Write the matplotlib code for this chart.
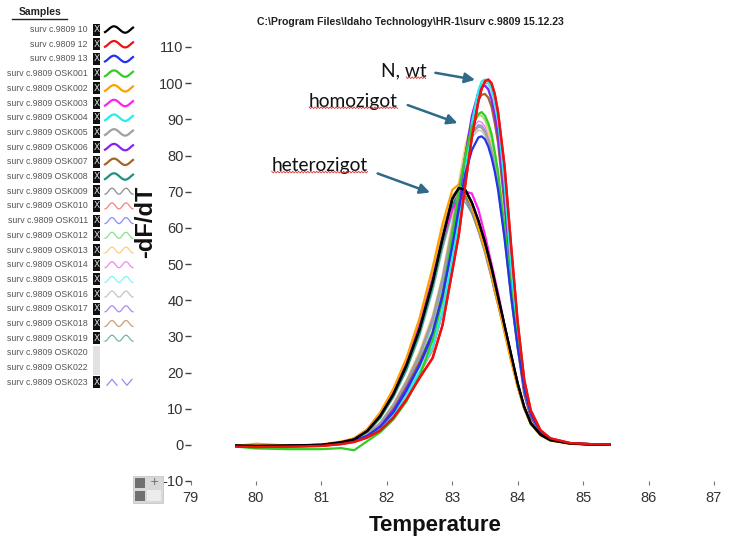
import numpy as np
import matplotlib
matplotlib.use('Agg')
import matplotlib.pyplot as plt
from matplotlib.patches import Rectangle
from matplotlib.lines import Line2D

# temperature grid (deg C) shared by all traces
temps = [79.7, 80.0, 80.5, 81.0, 81.3, 81.5, 81.7, 81.9, 82.1, 82.3, 82.5, 82.7, 82.85, 83.0, 83.1,
         83.2, 83.3, 83.4, 83.45, 83.5, 83.55, 83.6, 83.65, 83.7, 83.8, 83.9, 84.0, 84.1, 84.2, 84.35,
         84.5, 84.8, 85.1, 85.4]

# -dF/dT
s10 = [-0.2, -0.3, -0.2, 0.0, 0.7, 1.5, 3.8, 8, 14, 22, 32, 45, 57, 68, 71, 70.5, 67, 62, 59, 56, 52.5, 49, 45, 41, 33, 25, 17, 10.5, 6, 2.8, 1.3, 0.4, 0.1, 0.0]
s12 = [-0.5, -0.6, -0.5, -0.3, 0.2, 0.8, 2.0, 4.0, 7.5, 12.5, 18.5, 24, 33, 48, 58, 72, 85, 95, 98.5, 100.5, 101, 100, 97, 92, 77, 55, 34, 18, 9.5, 4, 1.8, 0.5, 0.2, 0.1]
s13 = [-0.3, -0.4, -0.3, -0.1, 0.4, 1.2, 2.5, 5, 9, 15, 22, 31, 41, 55, 65, 75, 81.5, 85, 85.3, 84.5, 82.5, 79.5, 75.5, 70.5, 57, 41, 27, 15.5, 8.5, 3.5, 1.5, 0.4, 0.2, 0.1]
osk001 = [-0.5, -1.0, -1.2, -1.2, -0.9, -1.5, 1.0, 3.5, 7, 12, 19, 29, 40, 58, 70, 80, 88, 91.5, 92, 91, 89, 86, 81, 75.5, 60, 43, 28, 16, 8.5, 3.5, 1.5, 0.4, 0.2, 0.1]
osk002 = [-0.3, 0.3, -0.2, 0.1, 0.9, 1.8, 4.3, 9, 15.5, 24, 35, 49, 61, 70.5, 72, 70, 66, 60, 57, 54, 50.5, 47, 43, 39, 31, 23, 16, 10, 5.7, 2.6, 1.2, 0.3, 0.1, 0.0]
osk003 = [-0.3, -0.3, -0.2, 0.0, 0.8, 1.7, 4.2, 8.8, 15, 23, 33, 46, 57, 65, 68, 70, 69.5, 65, 61.5, 58, 54, 50, 46, 42, 33, 24.5, 17, 10.5, 6, 2.8, 1.3, 0.4, 0.1, 0.0]
osk004 = [-0.3, -0.4, -0.4, -0.2, 0.3, 1.0, 2.3, 4.5, 8.5, 14, 20, 27, 37, 51, 62, 76, 89, 98, 100.5, 101, 100.5, 98.5, 95, 90, 72, 49, 30, 16, 8.5, 3.5, 1.5, 0.4, 0.2, 0.1]
osk005 = [-0.3, -0.4, -0.3, -0.1, 0.5, 1.3, 3, 6, 11, 17.5, 25, 35, 46, 60, 71, 80, 86, 88, 87.7, 86.5, 84.5, 81.5, 77, 72, 58, 41, 27, 15.5, 8.5, 3.5, 1.5, 0.4, 0.2, 0.1]
osk006 = [-0.3, -0.3, -0.3, -0.1, 0.4, 1.2, 2.7, 5.3, 9.5, 15.5, 22, 30, 41, 55, 66, 80, 91, 97.5, 99, 99.3, 98.3, 95.5, 91, 85.5, 68, 46, 28, 15, 8, 3.3, 1.4, 0.4, 0.2, 0.1]
osk007 = [-0.2, -0.3, -0.3, -0.1, 0.4, 1.2, 2.8, 5.5, 10, 16, 23, 31, 42, 56, 67, 80, 90, 95.5, 96.8, 97, 96, 93.5, 89, 83.5, 66, 45, 27, 14, 7.5, 3.2, 1.4, 0.4, 0.2, 0.1]
osk008 = [-0.2, -0.3, -0.2, 0.0, 0.6, 1.4, 3.5, 7.5, 13.5, 21, 31, 44, 56, 66, 69.5, 69, 66, 61, 58, 55, 51.5, 48, 44, 40, 32, 24, 16.5, 10, 5.8, 2.7, 1.2, 0.3, 0.1, 0.0]
osk009 = [-0.3, -0.3, -0.2, 0.0, 0.7, 1.5, 3.7, 7.8, 13.5, 21.5, 31.5, 44, 55, 65, 68.5, 68, 64, 59, 56, 53, 49.5, 46, 42, 38.5, 31, 23.5, 16, 10, 5.7, 2.7, 1.2, 0.3, 0.1, 0.0]
osk010 = [-0.5, -0.6, -0.5, -0.3, 0.2, 0.9, 2.2, 4.3, 8, 13, 19.5, 26, 36, 50, 60, 74, 87, 96, 98.5, 100, 100, 98.5, 95.5, 91, 75, 53, 32, 17, 9, 3.8, 1.7, 0.5, 0.2, 0.1]
osk011 = [-0.3, -0.4, -0.3, -0.1, 0.5, 1.3, 3, 6, 11, 17, 24.5, 34, 45, 59, 70, 80, 86.5, 88.5, 88.3, 87, 84.5, 81, 76.5, 71.5, 57.5, 41, 27, 15.5, 8.5, 3.5, 1.5, 0.4, 0.2, 0.1]
osk012 = [-0.4, -0.6, -0.5, -0.3, 0.3, 1.0, 2.6, 5.3, 10, 16, 23.5, 33, 44, 58, 70, 80, 88, 91, 91, 90, 88, 84.5, 79.5, 74, 59, 42.5, 28, 16, 8.5, 3.5, 1.5, 0.4, 0.2, 0.1]
osk013 = [-0.3, -0.4, -0.3, -0.1, 0.5, 1.3, 3, 6.2, 11.5, 18, 26, 36, 47, 62, 73, 83, 89.5, 91.5, 91, 89.5, 86.5, 82.5, 77, 71, 56, 40, 26, 15, 8, 3.4, 1.5, 0.4, 0.2, 0.1]
osk014 = [-0.3, -0.4, -0.3, -0.1, 0.5, 1.3, 2.9, 5.9, 11, 17, 25, 34.5, 45.5, 59.5, 71, 81, 87.5, 89.5, 89.2, 88, 85.5, 81.5, 77, 72, 57, 41, 27, 15.5, 8.5, 3.5, 1.5, 0.4, 0.2, 0.1]
osk015 = [-0.4, -0.5, -0.4, -0.2, 0.3, 1.1, 2.5, 5, 9, 14.5, 21, 29, 39, 53, 64, 78, 90, 97.5, 99.5, 100, 99.2, 97, 93, 88, 70, 48, 29, 15, 8, 3.4, 1.5, 0.4, 0.2, 0.1]
osk016 = [-0.3, -0.4, -0.3, -0.1, 0.5, 1.3, 3, 6, 11, 17, 24.5, 34, 45, 58.5, 69.5, 79, 85, 87, 86.8, 85.5, 83.5, 80.5, 76, 71, 57, 41, 27, 15.5, 8.5, 3.5, 1.5, 0.4, 0.2, 0.1]
osk017 = [-0.3, -0.3, -0.2, 0.0, 0.8, 1.6, 4, 8.5, 14.5, 22.5, 32.5, 45.5, 57, 67, 70, 69, 65.5, 60, 57, 54, 50.5, 47, 43, 39, 31.5, 23.5, 16, 10, 5.8, 2.7, 1.2, 0.3, 0.1, 0.0]
osk018 = [-0.2, -0.2, -0.2, 0.1, 0.8, 1.7, 4.1, 8.6, 15, 23.5, 34, 47, 59, 69, 71, 69.5, 66, 60.5, 57.5, 54.5, 51, 47.5, 43.5, 39.5, 31.5, 23.5, 16, 10, 5.7, 2.7, 1.2, 0.3, 0.1, 0.0]
osk019 = [-0.2, -0.3, -0.2, 0.0, 0.6, 1.4, 3.5, 7.4, 13, 20.5, 30, 42.5, 54, 64, 67.5, 67, 64, 59, 56, 53, 49.5, 46, 42, 38.5, 31, 23.5, 16, 10, 5.7, 2.7, 1.2, 0.3, 0.1, 0.0]
osk023 = [-0.3, -0.3, -0.2, 0.0, 0.7, 1.5, 3.8, 8, 14, 22, 32, 45, 56.5, 66, 69, 68.5, 65, 60, 57, 54, 50.5, 47, 43, 39, 31.5, 23.5, 16, 10, 5.7, 2.7, 1.2, 0.3, 0.1, 0.0]

names = ['surv c.9809 10', 'surv c.9809 12', 'surv c.9809 13'] + \
        ['surv c.9809 OSK%03d' % i for i in range(1, 20)] + \
        ['surv c.9809 OSK020', 'surv c.9809 OSK022', 'surv c.9809 OSK023']
series = [s10, s12, s13, osk001, osk002, osk003, osk004, osk005, osk006, osk007, osk008,
          osk009, osk010, osk011, osk012, osk013, osk014, osk015, osk016, osk017, osk018, osk019,
          None, None, osk023]
colors = ['#000000', '#ee1111', '#2233ee', '#33cc22', '#ffa000', '#ff22ee', '#22eeee', '#a0a0a0',
          '#8822ee', '#a0662a', '#1f9080',
          '#8c8c8c', '#f88080', '#8c8cff', '#88e088', '#ffcc80', '#f088f0', '#88f4f4', '#c4c4c4',
          '#b088f0', '#c8a07c', '#70b8a8',
          None, None, '#9090f0']

W, H = 733, 537
fig = plt.figure(figsize=(W / 100, H / 100), dpi=100)

def fx(px):
    return px / W

def fy(py):
    return 1 - py / H

ax = fig.add_axes([fx(190.5), fy(481), (714 - 190.5) / W, (481 - 47) / H])
for s in ['top', 'right', 'left', 'bottom']:
    ax.spines[s].set_visible(False)

# light traces first, dark ones on top
for i in list(range(len(series)))[::-1]:
    if series[i] is None:
        continue
    lw = 1.6 if i < 11 else 1.1
    ax.plot(temps, series[i], color=colors[i], lw=lw, zorder=3 if i < 11 else 2,
            solid_joinstyle='round')
ax.plot(temps, s10, color=colors[0], lw=1.6, zorder=4, solid_joinstyle='round')
ax.plot(temps, s12, color=colors[1], lw=1.7, zorder=4, solid_joinstyle='round')

ax.set_xlim(79, 87)
ax.set_ylim(-10, 110)
ax.set_xticks(range(79, 88))
ax.set_yticks(range(-10, 111, 10))
tfont = dict(family='Liberation Sans', size=10.5, color='#333333')
ax.set_xticklabels([str(v) for v in range(79, 88)], **tfont)
ax.set_yticklabels([str(v) for v in range(-10, 111, 10)], **tfont)
ax.tick_params(axis='x', length=3, width=0.8, color='#777777', pad=4, direction='out')
ax.tick_params(axis='y', length=4, width=1.0, color='#444444', pad=1, direction='out')

fig.text(fx(410), fy(22), r'C:\Program Files\Idaho Technology\HR-1\surv c.9809 15.12.23',
         family='Liberation Sans', weight='bold', size=7.6, ha='center', va='center', color='#222222')
fig.text(fx(435), fy(526), 'Temperature', family='Liberation Sans', weight='bold', size=16,
         ha='center', va='center', color='#111111')
fig.text(fx(146), fy(222), '-dF/dT', family='Liberation Sans', weight='bold', size=17,
         ha='center', va='center', rotation=90, color='#111111')

# annotations
acol = '#2f6a88'
afont = dict(family='Lato', size=13.8, color='#111111')
ann = [('N, wt', 82.61, 103.3, (82.70, 103.0), (83.39, 100.8)),
       ('homozigot', 82.17, 95.0, (82.28, 94.2), (83.12, 88.7)),
       ('heterozigot', 81.71, 77.2, (81.82, 75.3), (82.70, 69.5))]
labels = []
for label, tx, ty, tail, head in ann:
    ax.annotate('', xy=head, xytext=tail,
                arrowprops=dict(arrowstyle='-|>,head_length=0.6,head_width=0.3', color=acol, lw=1.8))
    labels.append(ax.text(tx, ty, label, ha='right', va='center', **afont))

# red spell-check squiggles under the labels
fig.canvas.draw()
rend = fig.canvas.get_renderer()
for t in labels:
    bb = t.get_window_extent(rend)
    x0, x1 = bb.x0, bb.x1
    if t.get_text() == 'N, wt':
        x0 = x1 - (x1 - x0) * 0.45
    xs = np.arange(x0, x1, 1.5)
    ys = bb.y0 + 2 + np.where(np.arange(len(xs)) % 2 == 0, 0.8, -0.8)
    fig.add_artist(Line2D(xs / W, ys / H, color='#e03030', lw=0.6))

# sample list on the left
fig.text(fx(40), fy(12), 'Samples', family='Liberation Sans', weight='bold', size=7.5,
         ha='center', va='center', color='#222222')
fig.add_artist(Line2D([fx(12), fx(67)], [fy(19), fy(19)], color='#222222', lw=1.0))
row0, dy = 29.5, 14.7
for i, name in enumerate(names):
    py = row0 + dy * i
    fig.text(fx(88), fy(py), name, family='Liberation Sans', size=6.3, ha='right', va='center',
             color='#555555')
    if series[i] is None:
        continue
    fig.add_artist(Rectangle((fx(93), fy(py + 6)), 7 / W, 12 / H, facecolor='#111111',
                             edgecolor='none'))
    fig.text(fx(96.5), fy(py), 'X', family='DejaVu Sans', size=6.5, ha='center', va='center',
             color='#dddddd')
    t = np.linspace(0, 1, 40)
    wx = 105 + 28 * t
    if i < 11:
        wy = py - 3.2 * np.sin(2 * np.pi * (1.25 * t - 0.15))
        fig.add_artist(Line2D(wx / W, 1 - wy / H, color=colors[i], lw=1.6))
    elif i < 22:
        wy = py - 3.0 * np.sin(2 * np.pi * (2 * t - 0.25))
        fig.add_artist(Line2D(wx / W, 1 - wy / H, color=colors[i], lw=0.9))
    else:
        fig.add_artist(Line2D(np.array([107, 112, 117]) / W, 1 - np.array([py + 3, py - 3, py + 3]) / H,
                              color=colors[i], lw=0.9))
        fig.add_artist(Line2D(np.array([122, 127, 132]) / W, 1 - np.array([py - 3, py + 3, py - 3]) / H,
                              color=colors[i], lw=0.9))
# greyed-out boxes for hidden samples
fig.add_artist(Rectangle((fx(93), fy(row0 + dy * 23 + 7)), 7 / W, (dy + 14) / H,
                         facecolor='#e2e2e2', edgecolor='none'))

# little toolbar widget bottom left
fig.add_artist(Rectangle((fx(133), fy(503)), 30 / W, 27 / H, facecolor='#d8d8d8', edgecolor='#c0c0c0', lw=0.5))
fig.add_artist(Rectangle((fx(135), fy(488)), 10 / W, 10 / H, facecolor='#707070', edgecolor='none'))
fig.add_artist(Rectangle((fx(135), fy(501)), 10 / W, 10 / H, facecolor='#707070', edgecolor='none'))
fig.add_artist(Rectangle((fx(147), fy(501)), 14 / W, 11 / H, facecolor='#ececec', edgecolor='none'))
fig.text(fx(154), fy(482), '+', size=8, ha='center', va='center', color='#666666')

fig.savefig('out.png', dpi=100)
